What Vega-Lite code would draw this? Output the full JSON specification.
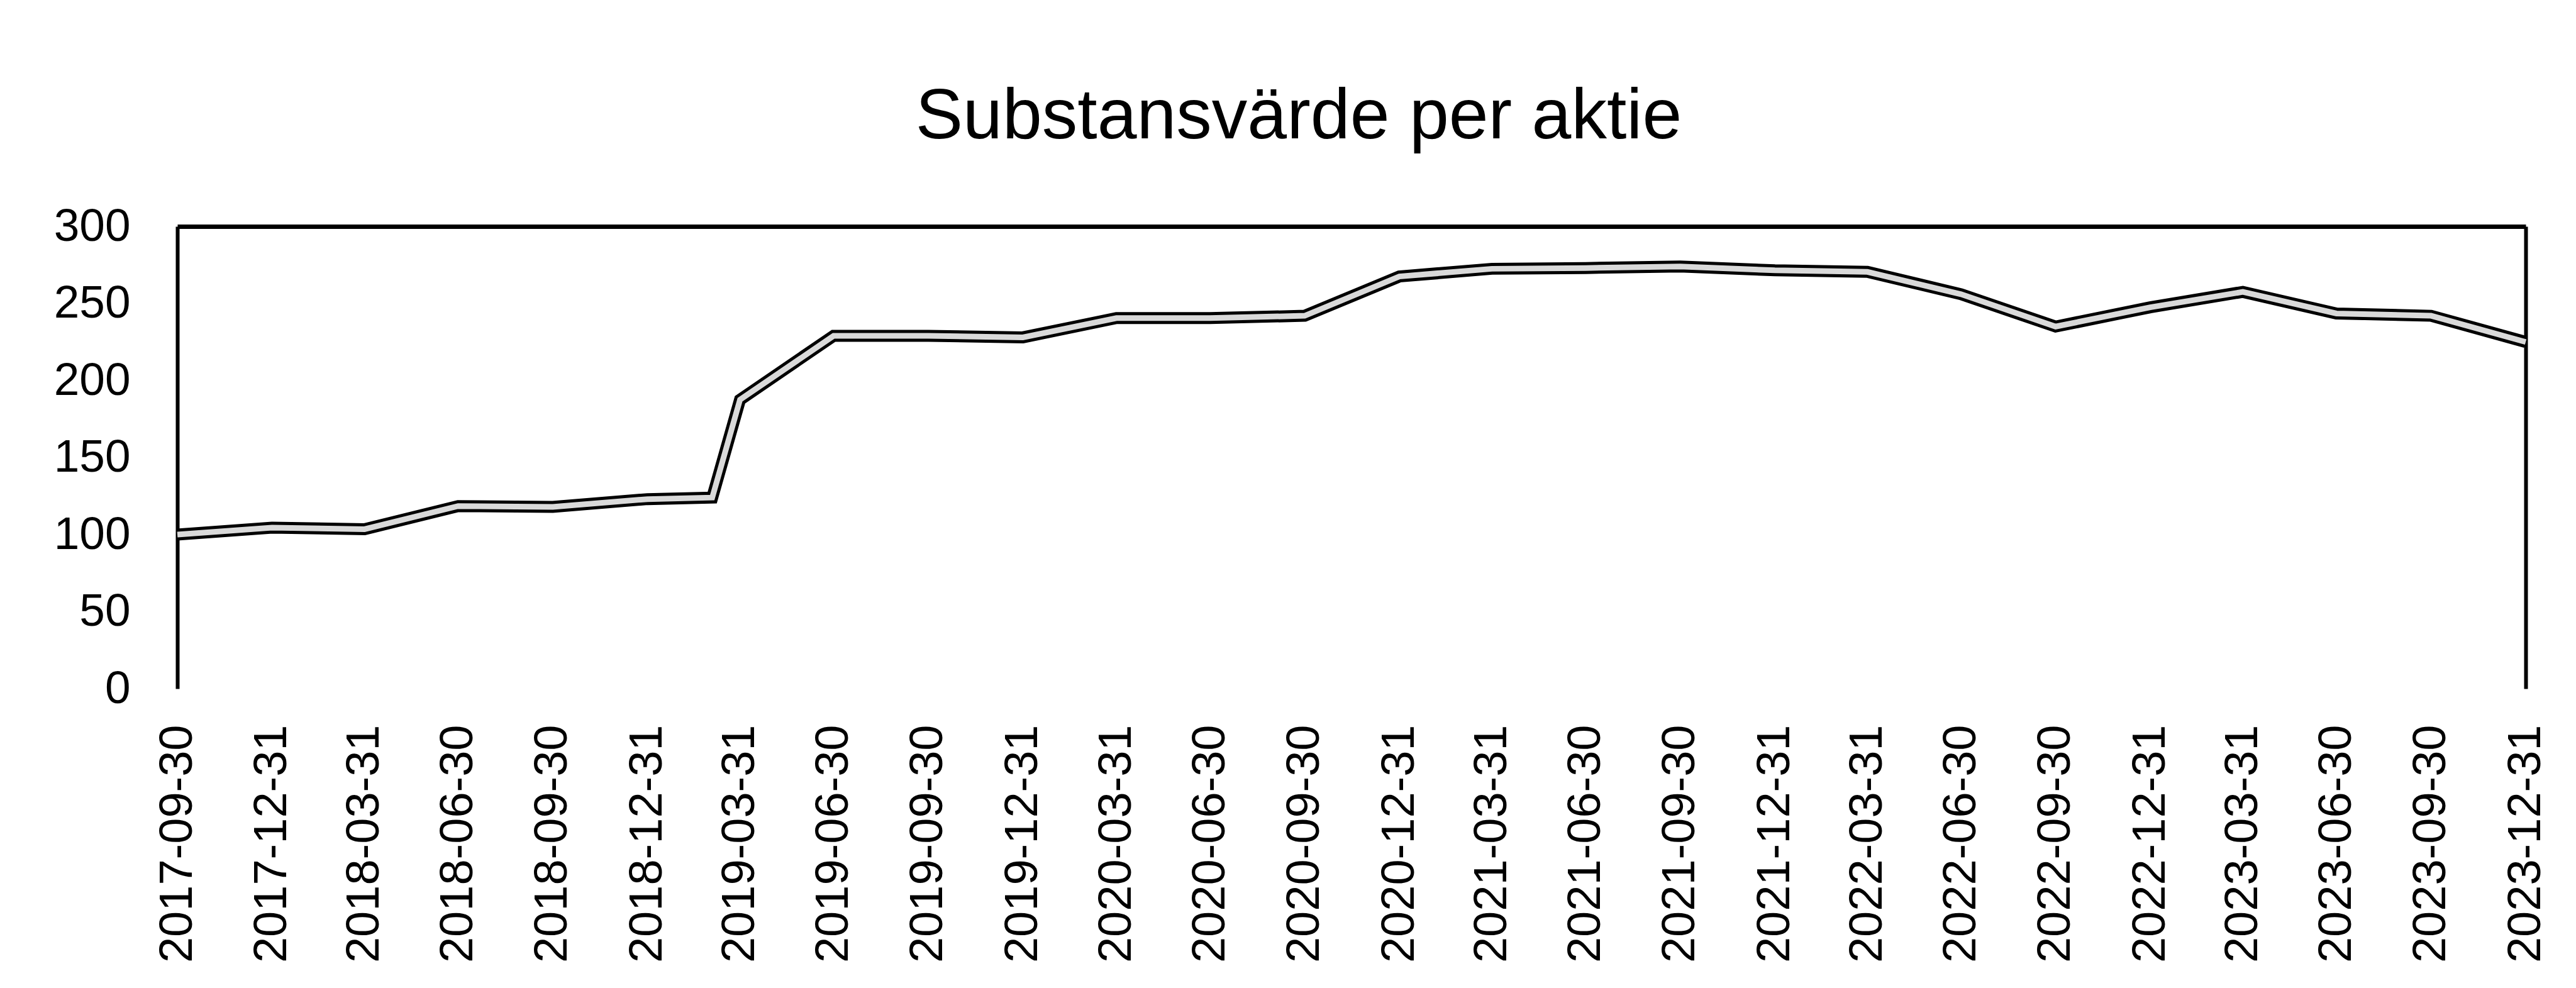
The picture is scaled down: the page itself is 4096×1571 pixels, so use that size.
{
  "$schema": "https://vega.github.io/schema/vega-lite/v6.json",
  "width": 3734,
  "height": 735,
  "autosize": {"type": "none"},
  "padding": {"left": 282, "top": 360, "right": 80, "bottom": 476},
  "background": "white",
  "config": {"view": {"stroke": null}, "font": "Liberation Sans"},
  "title": {
    "text": "Substansvärde per aktie",
    "fontSize": 113,
    "font": "Liberation Sans",
    "fontWeight": "normal",
    "color": "black",
    "anchor": "middle",
    "frame": "group",
    "dx": -84,
    "offset": 80
  },
  "data": {
    "values": [
      {"date": "2017-09-30", "value": 100},
      {"date": "2017-12-31", "value": 104.5},
      {"date": "2018-03-31", "value": 103.5},
      {"date": "2018-06-30", "value": 118.5},
      {"date": "2018-09-30", "value": 118},
      {"date": "2018-12-31", "value": 123},
      {"date": "2019-03-04", "value": 124},
      {"date": "2019-03-31", "value": 187.5},
      {"date": "2019-06-30", "value": 229},
      {"date": "2019-09-30", "value": 229},
      {"date": "2019-12-31", "value": 228},
      {"date": "2020-03-31", "value": 240.5},
      {"date": "2020-06-30", "value": 240.5},
      {"date": "2020-09-30", "value": 242},
      {"date": "2020-12-31", "value": 267.5},
      {"date": "2021-03-31", "value": 272.5},
      {"date": "2021-06-30", "value": 273},
      {"date": "2021-09-30", "value": 274},
      {"date": "2021-12-31", "value": 271.5},
      {"date": "2022-03-31", "value": 270.5},
      {"date": "2022-06-30", "value": 256},
      {"date": "2022-09-30", "value": 235},
      {"date": "2022-12-31", "value": 247.5},
      {"date": "2023-03-31", "value": 257.5},
      {"date": "2023-06-30", "value": 243.5},
      {"date": "2023-09-30", "value": 242},
      {"date": "2023-12-31", "value": 225}
    ]
  },
  "layer": [
    {
      "mark": {"type": "line", "color": "black", "strokeWidth": 19, "strokeJoin": "miter"},
      "encoding": {
        "x": {
          "field": "date",
          "type": "temporal",
          "scale": {"type": "utc", "domain": [{"year": 2017, "month": 9, "date": 30, "utc": true}, {"year": 2023, "month": 12, "date": 31, "utc": true}], "nice": false, "padding": 0},
          "axis": {
            "orient": "bottom",
            "title": null,
            "domain": false,
            "ticks": false,
            "tickSize": 0,
            "grid": false,
            "labelAngle": -90,
            "labelAlign": "right",
            "labelBaseline": "middle",
            "labelFontSize": 74,
            "labelFont": "Liberation Sans",
            "labelColor": "black",
            "labelPadding": 57,
            "labelFlush": false,
            "labelOverlap": false,
            "labelLimit": 2000,
            "labelExpr": "utcFormat(datum.value, '%Y-%m-%d')",
            "values": [
              {"year": 2017, "month": 9, "date": 30, "utc": true},
              {"year": 2017, "month": 12, "date": 31, "utc": true},
              {"year": 2018, "month": 3, "date": 31, "utc": true},
              {"year": 2018, "month": 6, "date": 30, "utc": true},
              {"year": 2018, "month": 9, "date": 30, "utc": true},
              {"year": 2018, "month": 12, "date": 31, "utc": true},
              {"year": 2019, "month": 3, "date": 31, "utc": true},
              {"year": 2019, "month": 6, "date": 30, "utc": true},
              {"year": 2019, "month": 9, "date": 30, "utc": true},
              {"year": 2019, "month": 12, "date": 31, "utc": true},
              {"year": 2020, "month": 3, "date": 31, "utc": true},
              {"year": 2020, "month": 6, "date": 30, "utc": true},
              {"year": 2020, "month": 9, "date": 30, "utc": true},
              {"year": 2020, "month": 12, "date": 31, "utc": true},
              {"year": 2021, "month": 3, "date": 31, "utc": true},
              {"year": 2021, "month": 6, "date": 30, "utc": true},
              {"year": 2021, "month": 9, "date": 30, "utc": true},
              {"year": 2021, "month": 12, "date": 31, "utc": true},
              {"year": 2022, "month": 3, "date": 31, "utc": true},
              {"year": 2022, "month": 6, "date": 30, "utc": true},
              {"year": 2022, "month": 9, "date": 30, "utc": true},
              {"year": 2022, "month": 12, "date": 31, "utc": true},
              {"year": 2023, "month": 3, "date": 31, "utc": true},
              {"year": 2023, "month": 6, "date": 30, "utc": true},
              {"year": 2023, "month": 9, "date": 30, "utc": true},
              {"year": 2023, "month": 12, "date": 31, "utc": true}
            ]
          }
        },
        "y": {
          "field": "value",
          "type": "quantitative",
          "scale": {"domain": [0, 300], "nice": false, "zero": true},
          "axis": {
            "orient": "left",
            "title": null,
            "values": [0, 50, 100, 150, 200, 250, 300],
            "domain": true,
            "domainColor": "black",
            "domainWidth": 6,
            "ticks": false,
            "tickSize": 0,
            "grid": false,
            "labelFontSize": 73,
            "labelFont": "Liberation Sans",
            "labelColor": "black",
            "labelPadding": 75
          }
        }
      }
    },
    {
      "mark": {"type": "line", "color": "#d9d9d9", "strokeWidth": 9, "strokeJoin": "miter"},
      "encoding": {
        "x": {
          "field": "date",
          "type": "temporal",
          "axis": {
            "orient": "top",
            "title": null,
            "labels": false,
            "ticks": false,
            "tickSize": 0,
            "grid": false,
            "domain": true,
            "domainColor": "black",
            "domainWidth": 7
          }
        },
        "y": {
          "field": "value",
          "type": "quantitative",
          "axis": {
            "orient": "right",
            "title": null,
            "labels": false,
            "ticks": false,
            "tickSize": 0,
            "grid": false,
            "domain": true,
            "domainColor": "black",
            "domainWidth": 6
          }
        }
      }
    }
  ],
  "resolve": {"axis": {"x": "independent", "y": "independent"}}
}
